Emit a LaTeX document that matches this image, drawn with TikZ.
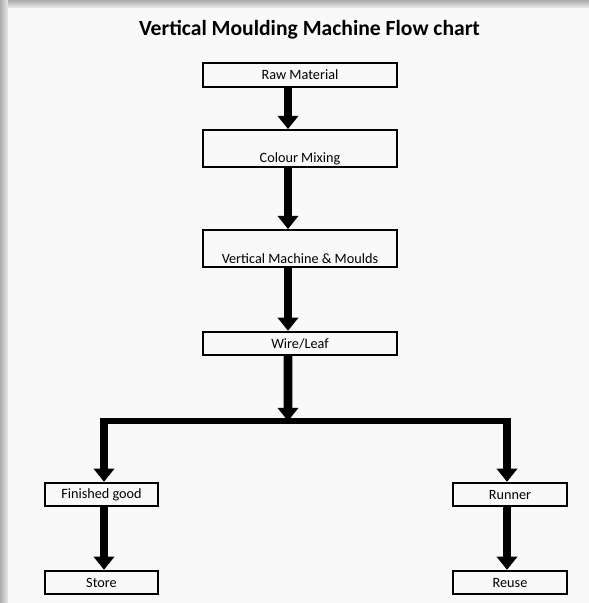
\documentclass[tikz,border=0pt]{standalone}
\usepackage{fontspec}
\setmainfont{Carlito}
\usetikzlibrary{arrows.meta}

\tikzset{
    stage/.style={draw, line width=1.1pt, minimum width=3.88cm, minimum height=0.47cm,
        inner sep=0pt, font=\fontsize{8.1}{9}\selectfont},
    flow/.style={line width=5pt, -{Triangle[width=11.5pt,length=7.5pt]}},
    bar/.style={line width=3pt}
}

\begin{document}
\begin{tikzpicture}[x=0.02cm, y=-0.02cm]
                \shade [top color=gray!65, bottom color=gray!15] (0,0) rectangle (589,8);
                \shade [left color=gray!65, right color=gray!15] (0,0) rectangle (8,603);
                \fill [gray!5] (8,8) rectangle (589,603);
                \node (title) at (309.5,30) {\fontsize{12.3}{14}\selectfont\bfseries Vertical Moulding Machine Flow chart};
                \node [stage] (raw) at (300,75) {Raw Material};
                \node [stage, minimum height=0.74cm, text height=0.64cm, text depth=0.1cm] (mix) at (300,148.5) {Colour Mixing};
                \node [stage, minimum height=0.74cm, text height=0.66cm, text depth=0.08cm] (mould) at (300,248.5) {Vertical Machine \& Moulds};
                \node [stage] (wire) at (300,343.5) {Wire/Leaf};
                \node [stage, minimum width=2.26cm] (fin) at (101.5,494.5) {Finished good};
                \node [stage, minimum width=2.26cm] (store) at (101.5,582.5) {Store};
                \node [stage, minimum width=2.28cm] (run) at (510,494.5) {Runner};
                \node [stage, minimum width=2.28cm] (reuse) at (510,582.5) {Reuse};
                \coordinate (split) at (288,421);
                \coordinate (lsplit) at (104,421);
                \coordinate (rsplit) at (507,421);
                \draw [flow] ([xshift=-0.24cm]raw.south) -- ([xshift=-0.24cm]mix.north);
                \draw [flow] ([xshift=-0.24cm]mix.south) -- ([xshift=-0.24cm]mould.north);
                \draw [flow] ([xshift=-0.24cm]mould.south) -- ([xshift=-0.24cm]wire.north);
                \draw [bar] ([xshift=-2.5pt]lsplit) -- ([xshift=2.5pt]rsplit);
                \draw [flow] ([xshift=-0.24cm]wire.south) -- (split);
                \draw [flow] (lsplit) -- (lsplit |- fin.north);
                \draw [flow] (rsplit) -- (rsplit |- run.north);
                \draw [flow] (lsplit |- fin.south) -- (lsplit |- store.north);
                \draw [flow] (rsplit |- run.south) -- (rsplit |- reuse.north);
\end{tikzpicture}
\end{document}
